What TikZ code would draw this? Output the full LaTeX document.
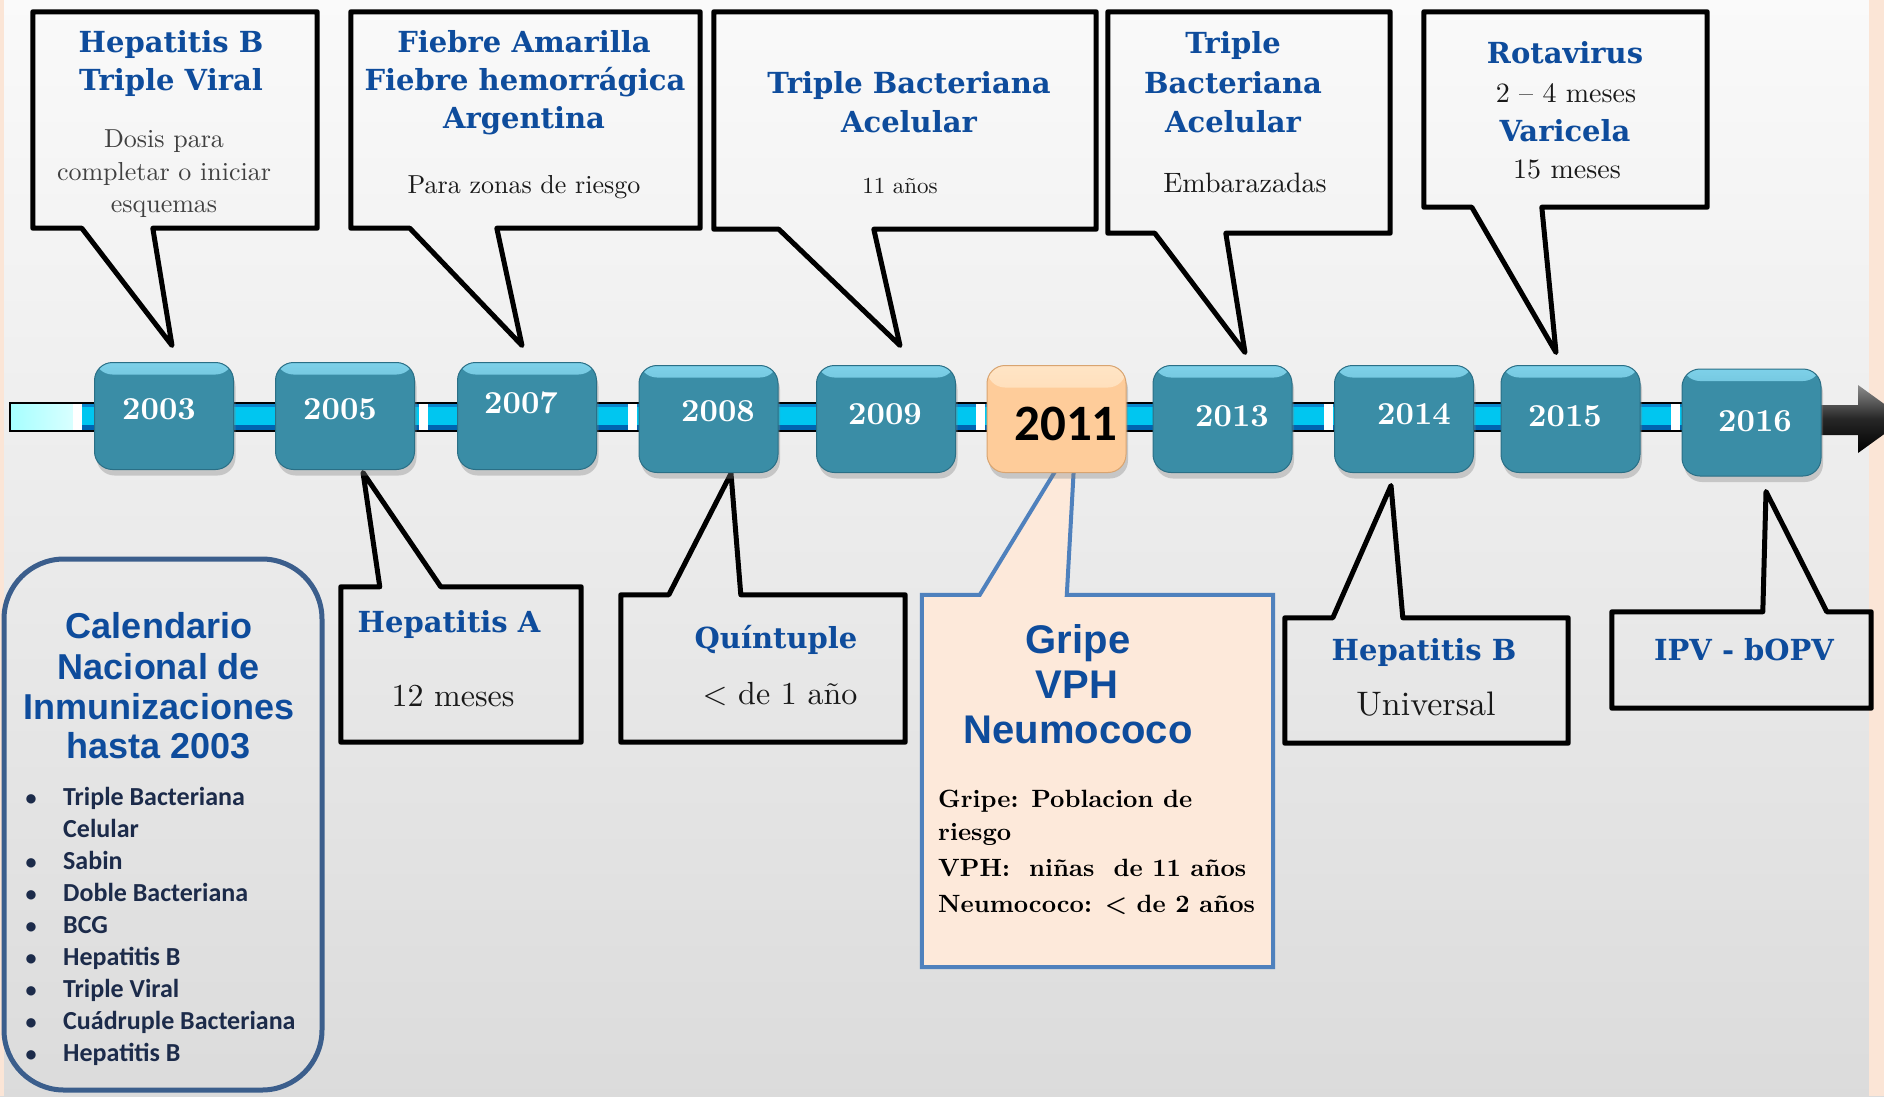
\documentclass[tikz,border=0pt]{standalone}
\usepackage{fontspec}
\setmainfont{lmroman10-regular.otf}[BoldFont=lmroman10-bold.otf, ItalicFont=lmroman10-italic.otf]
\newfontfamily\headfont{DejaVu Serif}
\newfontfamily\arialfont{Liberation Sans}
\newfontfamily\calibfont{Carlito}
\usetikzlibrary{calc,shadows}
\definecolor{headblue}{HTML}{0E4C9C}
\definecolor{teal1}{HTML}{3A8DA6}
\definecolor{teal2}{HTML}{2A6F86}
\definecolor{teallight}{HTML}{7FD2EA}
\definecolor{peach}{HTML}{FECC9A}
\definecolor{peachtop}{HTML}{FFE5C6}
\definecolor{peachedge}{HTML}{D8A470}
\definecolor{gripefill}{HTML}{FDE9DA}
\definecolor{gripeblue}{HTML}{4F81BD}
\definecolor{calblue}{HTML}{3B5E8C}
\definecolor{navy}{HTML}{1C2B4A}
\definecolor{strip}{HTML}{FBE5D6}
\definecolor{bartop}{HTML}{0A86CC}
\definecolor{barmid}{HTML}{00C6F0}
\definecolor{barlight}{HTML}{2FD8FA}
\definecolor{barbot}{HTML}{0064B0}
\definecolor{greytext}{HTML}{404040}
\pgfdeclarelayer{bg}
\pgfdeclarelayer{back}
\pgfsetlayers{bg,back,main}
\begin{document}
\begin{tikzpicture}[x=1pt,y=-1pt,
  callout/.style={draw=black, line width=5pt, line join=round},
  boxarea/.style={inner sep=0pt, draw=none},
  headtxt/.style={text=headblue, font=\headfont\bfseries\fontsize{29}{35}\selectfont, anchor=base, inner sep=0pt},
  bodytxt/.style={text=black!90, font=\fontsize{26}{30}\selectfont, anchor=base, inner sep=0pt},
  yearbox/.style={rounded corners=18pt, minimum width=139pt, minimum height=107pt, inner sep=0pt,
     fill=teal1, draw=teal2, line width=1pt,
     drop shadow={shadow xshift=2pt, shadow yshift=-6pt, opacity=0.35},
     path picture={\shade[top color=teallight, bottom color=teal1]
        ([yshift=2pt]path picture bounding box.north west) rectangle
        ([yshift=-12pt]path picture bounding box.north east);}},
  yeartxt/.style={text=white, font=\bfseries\fontsize{32}{36}\selectfont, anchor=base, inner sep=0pt},
  calhead/.style={text=headblue, font=\arialfont\bfseries\fontsize{36}{40}\selectfont, anchor=base, inner sep=0pt},
  gripehead/.style={text=headblue, font=\arialfont\bfseries\fontsize{40}{45}\selectfont, anchor=base, inner sep=0pt},
  gripebody/.style={text=black, font=\bfseries\fontsize{25}{30}\selectfont, anchor=base west, inner sep=0pt},
  listitem/.style={text=navy, font=\calibfont\bfseries\fontsize{26}{30}\selectfont, anchor=base west, inner sep=0pt},
  bulletmark/.style={text=navy, font=\calibfont\bfseries\fontsize{22}{30}\selectfont, anchor=base, inner sep=0pt},
]
\useasboundingbox (0,0) rectangle (1884,1096);
\begin{pgfonlayer}{bg}
  \shade[top color=black!2, middle color=black!4, bottom color=black!14] (0,0) rectangle (1884,1096);
  \fill[strip] (0,0) rectangle (4,1096);
  \fill[strip] (1869,0) rectangle (1884,1096);
\end{pgfonlayer}

% timeline bar
\shade[top color=barmid, middle color=barlight, bottom color=barmid] (10,404) rectangle (1690,430);
\fill[bartop] (10,404) rectangle (1690,407);
\fill[barbot] (10,425) rectangle (1690,430);
\shade[left color=cyan!35!white, right color=cyan!15!white] (10,404) rectangle (73,430);
\foreach \xa in {73,419,628,976,1324,1671}
  \fill[white] (\xa,404) rectangle ({\xa+9},430);
\draw[line width=2pt] (10,403) rectangle (1690,431);

% arrow head of the timeline
\shade[top color=black!45, bottom color=black, middle color=black!85] (1818,405) -- (1858,405) -- (1858,385) -- (1905,419)
   -- (1858,453) -- (1858,435) -- (1818,435) -- cycle;

% year boxes
\node[yearbox] (y2003) at (164,416) {};
\node[yearbox] (y2005) at (345,416) {};
\node[yearbox] (y2007) at (527,416) {};
\node[yearbox] (y2008) at (708.5,419) {};
\node[yearbox] (y2009) at (886,419) {};
\node[yearbox, fill=peach, draw=peachedge, path picture={\shade[top color=peachtop, bottom color=peach]
        ([yshift=2pt]path picture bounding box.north west) rectangle
        ([yshift=-22pt]path picture bounding box.north east);}] (y2011) at (1056.5,419) {};
\node[yearbox] (y2013) at (1222.5,419) {};
\node[yearbox] (y2014) at (1404,419) {};
\node[yearbox] (y2015) at (1570.5,419) {};
\node[yearbox] (y2016) at (1751.5,422.5) {};

\node[yeartxt] (l2003) at (159,419) {2003};
\node[yeartxt] (l2005) at (340,419) {2005};
\node[yeartxt] (l2007) at (521,413) {2007};
\node[yeartxt] (l2008) at (718,421) {2008};
\node[yeartxt] (l2009) at (885,424) {2009};
\node[text=black, font=\calibfont\bfseries\fontsize{51}{56}\selectfont, anchor=base, inner sep=0pt] (l2011) at (1066,440) {2011};
\node[yeartxt] (l2013) at (1232,426) {2013};
\node[yeartxt] (l2014) at (1414,424) {2014};
\node[yeartxt] (l2015) at (1565,426) {2015};
\node[yeartxt] (l2016) at (1755,431) {2016};

% callout areas
\node[boxarea, minimum width=284pt, minimum height=216pt] (c1) at (175,120) {};
\node[boxarea, minimum width=349pt, minimum height=216pt] (c2) at (525.5,120) {};
\node[boxarea, minimum width=382pt, minimum height=217pt] (c3) at (905,120.5) {};
\node[boxarea, minimum width=282pt, minimum height=221pt] (c4) at (1249,122.5) {};
\node[boxarea, minimum width=283pt, minimum height=195pt] (c5) at (1565.5,109.5) {};
\node[boxarea, minimum width=240pt, minimum height=155pt] (cA) at (461,664.5) {};
\node[boxarea, minimum width=284pt, minimum height=147pt] (cQ) at (763,668.5) {};
\node[boxarea, minimum width=351pt, minimum height=372pt] (cG) at (1097.5,781) {};
\node[boxarea, minimum width=283pt, minimum height=125pt] (cB) at (1426.5,680.5) {};
\node[boxarea, minimum width=259pt, minimum height=96pt] (cI) at (1741.5,660) {};
\node[boxarea, draw=calblue, line width=5pt, rounded corners=60pt, minimum width=318pt, minimum height=531pt] (cal) at (163,824.5) {};

\coordinate (p1) at ($(y2003.north)+(8,-16.5)$);
\coordinate (p2) at ($(y2007.north)+(-5,-16.5)$);
\coordinate (p3) at ($(y2009.north)+(14,-19.5)$);
\coordinate (p4) at ($(y2013.north)+(22.5,-12.5)$);
\coordinate (p5) at ($(y2015.north)+(-14.5,-12.5)$);
\coordinate (pA) at ($(y2005.south)+(18,2.5)$);
\coordinate (pQ) at ($(y2008.south)+(22.5,0.5)$);
\coordinate (pB) at ($(y2014.south)+(-13,12.5)$);
\coordinate (pI) at ($(y2016.south)+(14.5,15)$);
\coordinate (pGl) at ($(y2011.south)+(2.5,-8)$);
\coordinate (pGr) at ($(y2011.south)+(17.5,-8)$);

\begin{pgfonlayer}{back}
  \draw[callout] (c1.south west) -- (c1.north west) -- (c1.north east) -- (c1.south east)
     -- ($(c1.south west)+(120,0)$) -- (p1) -- ($(c1.south west)+(49,0)$) -- cycle;
  \draw[callout] (c2.south west) -- (c2.north west) -- (c2.north east) -- (c2.south east)
     -- ($(c2.south west)+(146,0)$) -- (p2) -- ($(c2.south west)+(59,0)$) -- cycle;
  \draw[callout] (c3.south west) -- (c3.north west) -- (c3.north east) -- (c3.south east)
     -- ($(c3.south west)+(160,0)$) -- (p3) -- ($(c3.south west)+(65,0)$) -- cycle;
  \draw[callout] (c4.south west) -- (c4.north west) -- (c4.north east) -- (c4.south east)
     -- ($(c4.south west)+(118,0)$) -- (p4) -- ($(c4.south west)+(47,0)$) -- cycle;
  \draw[callout] (c5.south west) -- (c5.north west) -- (c5.north east) -- (c5.south east)
     -- ($(c5.south west)+(118,0)$) -- (p5) -- ($(c5.south west)+(48,0)$) -- cycle;
  \draw[callout] (cA.north west) -- ($(cA.north west)+(39,0)$) -- (pA) -- ($(cA.north west)+(100,0)$)
     -- (cA.north east) -- (cA.south east) -- (cA.south west) -- cycle;
  \draw[callout] (cQ.north west) -- ($(cQ.north west)+(48,0)$) -- (pQ) -- ($(cQ.north west)+(120,0)$)
     -- (cQ.north east) -- (cQ.south east) -- (cQ.south west) -- cycle;
  \draw[callout] (cB.north west) -- ($(cB.north west)+(48,0)$) -- (pB) -- ($(cB.north west)+(118,0)$)
     -- (cB.north east) -- (cB.south east) -- (cB.south west) -- cycle;
  \draw[callout] (cI.north west) -- ($(cI.north west)+(151,0)$) -- (pI) -- ($(cI.north west)+(215,0)$)
     -- (cI.north east) -- (cI.south east) -- (cI.south west) -- cycle;
  \draw[draw=gripeblue, fill=gripefill, line width=4pt, line join=miter]
     (cG.north west) -- ($(cG.north west)+(58,0)$) -- (pGl) -- (pGr) -- ($(cG.north west)+(145,0)$)
     -- (cG.north east) -- (cG.south east) -- (cG.south west) -- cycle;
\end{pgfonlayer}

% callout 1
\node[headtxt] (t1a) at (171,52) {Hepatitis B};
\node[headtxt] (t1b) at (171,90) {Triple Viral};
\node[bodytxt, text=greytext] (t1c) at (164,147) {Dosis para};
\node[bodytxt, text=greytext] (t1d) at (164,180) {completar o iniciar};
\node[bodytxt, text=greytext] (t1e) at (164,212) {esquemas};
% callout 2
\node[headtxt] (t2a) at (524,52) {Fiebre Amarilla};
\node[headtxt] (t2b) at (525,90) {Fiebre hemorrágica};
\node[headtxt] (t2c) at (524,128) {Argentina};
\node[bodytxt] (t2d) at (524,193) {Para zonas de riesgo};
% callout 3
\node[headtxt] (t3a) at (909,93) {Triple Bacteriana};
\node[headtxt] (t3b) at (909,132) {Acelular};
\node[bodytxt, font=\fontsize{23}{27}\selectfont] (t3c) at (900,193) {11 años};
% callout 4
\node[headtxt] (t4a) at (1233,53) {Triple};
\node[headtxt] (t4b) at (1233,93) {Bacteriana};
\node[headtxt] (t4c) at (1233,132) {Acelular};
\node[bodytxt, font=\fontsize{28}{32}\selectfont] (t4d) at (1245,192) {Embarazadas};
% callout 5
\node[headtxt] (t5a) at (1565,63) {Rotavirus};
\node[bodytxt, font=\fontsize{28}{32}\selectfont] (t5b) at (1566,102) {2 -- 4 meses};
\node[headtxt] (t5c) at (1565,141) {Varicela};
\node[bodytxt, font=\fontsize{28}{32}\selectfont] (t5d) at (1567,178) {15 meses};
% Hepatitis A
\node[headtxt] (tAa) at (449,632) {Hepatitis A};
\node[bodytxt, font=\fontsize{32}{36}\selectfont] (tAb) at (453,706) {12 meses};
% Quintuple
\node[headtxt] (tQa) at (776,648) {Quíntuple};
\node[bodytxt, font=\fontsize{32}{36}\selectfont] (tQb) at (780,704) {< de 1 año};
% Gripe
\node[gripehead] (tGa) at (1078,653) {Gripe};
\node[gripehead] (tGb) at (1077,698) {VPH};
\node[gripehead] (tGc) at (1078,743) {Neumococo};
\node[gripebody] (tGd) at (938,807) {Gripe: Poblacion de};
\node[gripebody] (tGe) at (938,840) {riesgo};
\node[gripebody] (tGf) at (938,876) {VPH:\ \ niñas\ \ de 11 años};
\node[gripebody] (tGg) at (938,912) {Neumococo: < de 2 años};
% Hepatitis B 2014
\node[headtxt] (tBa) at (1424,660) {Hepatitis B};
\node[bodytxt, font=\fontsize{34}{38}\selectfont] (tBb) at (1426,715) {Universal};
% IPV
\node[headtxt] (tIa) at (1744,660) {IPV - bOPV};

% Calendario
\node[calhead] (k1) at (159,638) {Calendario};
\node[calhead] (k2) at (159,679) {Nacional de};
\node[calhead] (k3) at (159,719) {Inmunizaciones};
\node[calhead] (k4) at (159,758) {hasta 2003};
\node[bulletmark] (b1) at (31,805) {•};
\node[listitem] (i1) at (63,805) {Triple Bacteriana};
\node[listitem] (i1b) at (63,837) {Celular};
\node[bulletmark] (b2) at (31,869) {•};
\node[listitem] (i2) at (63,869) {Sabin};
\node[bulletmark] (b3) at (31,901) {•};
\node[listitem] (i3) at (63,901) {Doble Bacteriana};
\node[bulletmark] (b4) at (31,933) {•};
\node[listitem] (i4) at (63,933) {BCG};
\node[bulletmark] (b5) at (31,965) {•};
\node[listitem] (i5) at (63,965) {Hepatitis B};
\node[bulletmark] (b6) at (31,997) {•};
\node[listitem] (i6) at (63,997) {Triple Viral};
\node[bulletmark] (b7) at (31,1029) {•};
\node[listitem] (i7) at (63,1029) {Cuádruple Bacteriana};
\node[bulletmark] (b8) at (31,1061) {•};
\node[listitem] (i8) at (63,1061) {Hepatitis B};
\end{tikzpicture}
\end{document}
